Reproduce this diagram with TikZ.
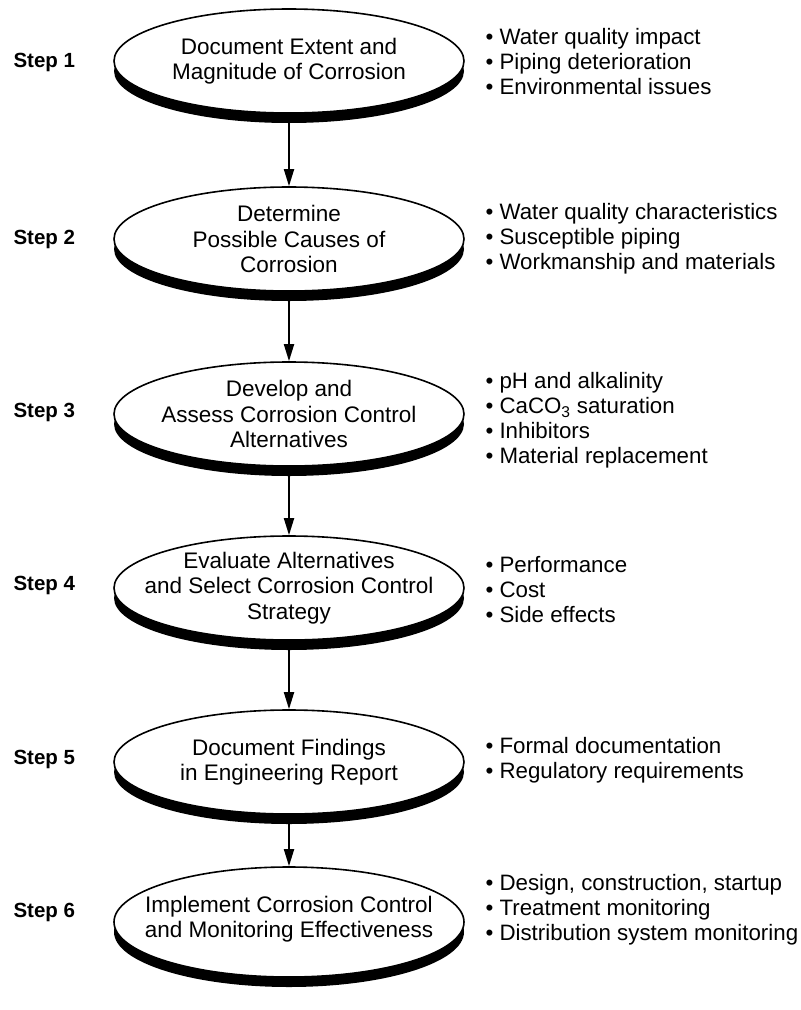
\documentclass[tikz,border=0pt]{standalone}
\usepackage{fontspec}
\setmainfont{Liberation Sans}
\usetikzlibrary{shapes.geometric,arrows.meta}

\begin{document}
\begin{tikzpicture}[x=1pt, y=1pt,
		stepoval/.style = {ellipse, draw = black, line width = 1.6pt, fill = white,
			minimum width = 350pt, minimum height = 104pt, inner sep = 0pt},
		stepshadow/.style = {ellipse, fill = black,
			minimum width = 350pt, minimum height = 104pt, inner sep = 0pt},
		steptext/.style = {align = center, font = \fontsize{22.5}{25.5}\selectfont},
		steplabel/.style = {anchor = west, font = \fontsize{20.5}{24}\selectfont\bfseries},
		bulletlist/.style = {anchor = west, align = left, font = \fontsize{22.3}{25}\selectfont},
		flow/.style = {-{Triangle[length=17pt, width=10pt]}, line width = 1.8pt}]
		\useasboundingbox (0,0) rectangle (801,-1010);

		% shadows first, then the white ovals on top
		\node [stepshadow] (h1) at (289,-71) {};
		\node [stepoval] (e1) at (289,-61) {};
		\node [stepshadow] (h2) at (289,-249) {};
		\node [stepoval] (e2) at (289,-239) {};
		\node [stepshadow] (h3) at (289,-424) {};
		\node [stepoval] (e3) at (289,-414) {};
		\node [stepshadow] (h4) at (289,-598) {};
		\node [stepoval] (e4) at (289,-588) {};
		\node [stepshadow] (h5) at (289,-772) {};
		\node [stepoval] (e5) at (289,-762) {};
		\node [stepshadow, minimum height = 110pt] (h6) at (289,-932) {};
		\node [stepoval, minimum height = 110pt] (e6) at (289,-922) {};

		\node [steptext] (t1) at (e1) {Document Extent and\\Magnitude of Corrosion};
		\node [steptext] (t2) at (e2) {Determine\\Possible Causes of\\Corrosion};
		\node [steptext] (t3) at (e3) {Develop and\\Assess Corrosion Control\\Alternatives};
		\node [steptext] (t4) at (e4) {Evaluate Alternatives\\and Select Corrosion Control\\Strategy};
		\node [steptext] (t5) at (e5) {Document Findings\\in Engineering Report};
		\node [steptext] (t6) at (289,-919) {Implement Corrosion Control\\and Monitoring Effectiveness};

		\draw [flow] (h1.south) -- (e2.north);
		\draw [flow] (h2.south) -- (e3.north);
		\draw [flow] (h3.south) -- (e4.north);
		\draw [flow] (h4.south) -- (e5.north);
		\draw [flow] (h5.south) -- (e6.north);

		\node [steplabel] (s1) at (10,-62) {Step 1};
		\node [steplabel] (s2) at (10,-239) {Step 2};
		\node [steplabel] (s3) at (10,-412) {Step 3};
		\node [steplabel] (s4) at (10,-585) {Step 4};
		\node [steplabel] (s5) at (10,-759) {Step 5};
		\node [steplabel] (s6) at (10,-912) {Step 6};

		\node [bulletlist] (b1) at (482,-62) {\textbullet\ Water quality impact\\\textbullet\ Piping deterioration\\\textbullet\ Environmental issues};
		\node [bulletlist] (b2) at (482,-239) {\textbullet\ Water quality characteristics\\\textbullet\ Susceptible piping\\\textbullet\ Workmanship and materials};
		\node [bulletlist] (b3) at (482,-420) {\textbullet\ pH and alkalinity\\\textbullet\ CaCO\textsubscript{3} saturation\\\textbullet\ Inhibitors\\\textbullet\ Material replacement};
		\node [bulletlist] (b4) at (482,-590) {\textbullet\ Performance\\\textbullet\ Cost\\\textbullet\ Side effects};
		\node [bulletlist] (b5) at (482,-760) {\textbullet\ Formal documentation\\\textbullet\ Regulatory requirements};
		\node [bulletlist] (b6) at (482,-910) {\textbullet\ Design, construction, startup\\\textbullet\ Treatment monitoring\\\textbullet\ Distribution system monitoring};
\end{tikzpicture}
\end{document}
